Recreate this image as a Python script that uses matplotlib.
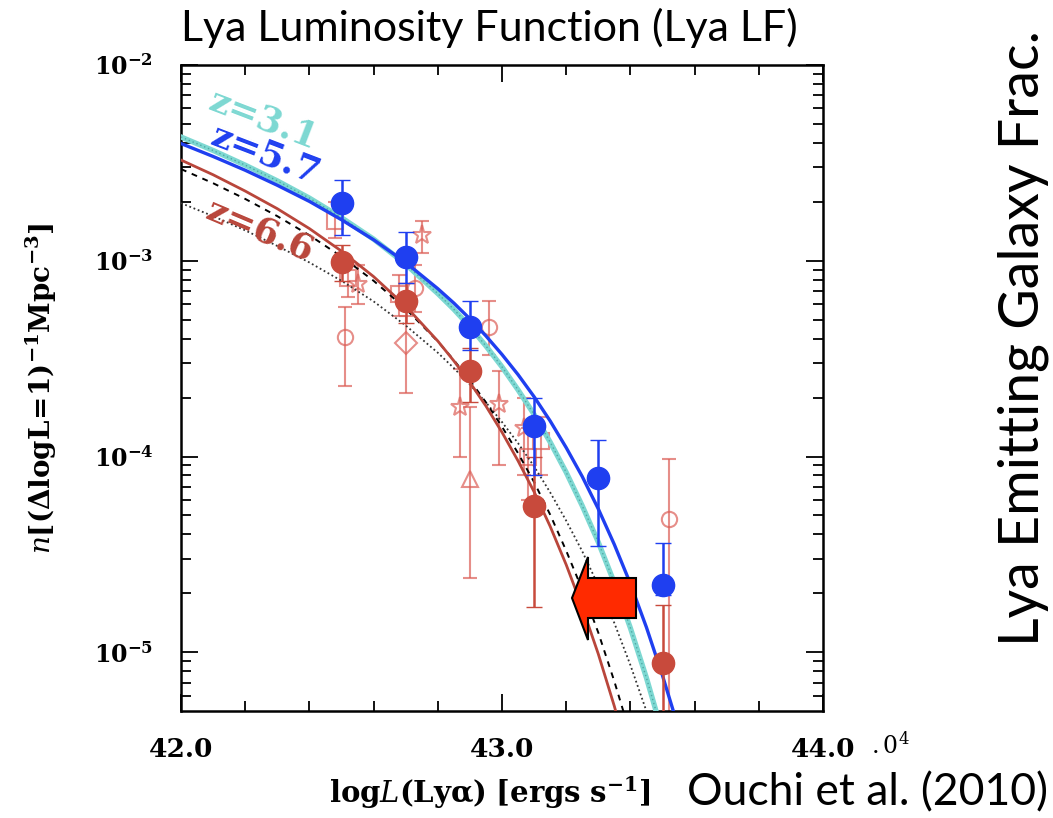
import math
import matplotlib
matplotlib.use("Agg")
import matplotlib.pyplot as plt
from matplotlib.ticker import LogLocator, MultipleLocator, FixedLocator, FuncFormatter, NullFormatter
from matplotlib.patches import Polygon

plt.rcParams['mathtext.fontset'] = 'dejavuserif'

# Schechter fit curves
curve_logL = [42.0, 42.1, 42.2, 42.3, 42.4, 42.5, 42.6, 42.7, 42.8, 42.85, 42.9, 42.95, 43.0,
              43.05, 43.1, 43.15, 43.2, 43.25, 43.3, 43.35, 43.4, 43.45, 43.5, 43.55, 43.6]
curve_z57 = [3.97e-3, 3.41e-3, 2.90e-3, 2.43e-3, 2.01e-3, 1.62e-3, 1.28e-3, 9.8e-4, 7.2e-4,
             6.08e-4, 5.05e-4, 4.13e-4, 3.32e-4, 2.62e-4, 2.02e-4, 1.52e-4, 1.11e-4, 7.9e-5,
             5.4e-5, 3.55e-5, 2.24e-5, 1.34e-5, 7.6e-6, 4.1e-6, 2.0e-6]
curve_z31 = [4.29e-3, 3.66e-3, 3.08e-3, 2.56e-3, 2.09e-3, 1.66e-3, 1.29e-3, 9.6e-4, 6.8e-4,
             5.65e-4, 4.6e-4, 3.67e-4, 2.87e-4, 2.19e-4, 1.64e-4, 1.185e-4, 8.3e-5, 5.6e-5,
             3.65e-5, 2.26e-5, 1.33e-5, 7.4e-6, 3.85e-6, 1.9e-6, None]
curve_z66 = [3.27e-3, 2.75e-3, 2.27e-3, 1.845e-3, 1.46e-3, 1.12e-3, 8.3e-4, 5.86e-4, 3.89e-4,
             3.08e-4, 2.39e-4, 1.81e-4, 1.33e-4, 9.5e-5, 6.6e-5, 4.4e-5, 2.8e-5, 1.7e-5,
             9.8e-6, 5.3e-6, 2.7e-6, 1.3e-6, None, None, None]
curve_dash = [2.94e-3, 2.49e-3, 2.07e-3, 1.69e-3, 1.35e-3, 1.05e-3, 7.9e-4, 5.69e-4, 3.87e-4,
              3.11e-4, 2.45e-4, 1.89e-4, 1.42e-4, 1.04e-4, 7.4e-5, 5.05e-5, 3.3e-5, 2.09e-5,
              1.26e-5, 7.1e-6, 3.8e-6, 1.9e-6, None, None, None]
curve_dot = [1.97e-3, 1.69e-3, 1.43e-3, 1.19e-3, 9.8e-4, 7.9e-4, 6.2e-4, 4.67e-4, 3.39e-4,
             2.83e-4, 2.33e-4, 1.89e-4, 1.50e-4, 1.17e-4, 8.9e-5, 6.56e-5, 4.7e-5, 3.28e-5,
             2.19e-5, 1.41e-5, 8.6e-6, 5.0e-6, 2.7e-6, 1.4e-6, None]

# z=5.7 (blue filled circles)
logL_z57 = [42.5, 42.7, 42.9, 43.1, 43.3, 43.5]
n_z57 = [1.97e-3, 1.05e-3, 4.6e-4, 1.44e-4, 7.8e-5, 2.2e-5]
n_z57_lo = [1.35e-3, 7.7e-4, 3.5e-4, 8.0e-5, 3.5e-5, 1.95e-5]
n_z57_hi = [2.58e-3, 1.40e-3, 6.2e-4, 2.0e-4, 1.21e-4, 3.6e-5]

# z=6.6 (red filled circles)
logL_z66 = [42.5, 42.7, 42.9, 43.1, 43.5]
n_z66 = [9.8e-4, 6.2e-4, 2.75e-4, 5.6e-5, 8.8e-6]
n_z66_lo = [7.9e-4, 4.8e-4, 1.9e-4, 1.7e-5, 1e-7]
n_z66_hi = [1.2e-3, 7.7e-4, 3.6e-4, 1.0e-4, 1.75e-5]

# other z=6.6 measurements (faint open symbols)
other_marker = ['o', 'o', 'o', 'o', '^', 'D', '*', '*', '*', '*', '*', 's', 's', 's', 's', 's']
other_logL = [42.51, 42.73, 42.96, 43.52, 42.90, 42.70, 42.75, 42.55, 42.87, 42.99, 43.07,
              42.48, 42.52, 42.68, 43.08, 43.12]
other_n = [4.1e-4, 7.3e-4, 4.6e-4, 4.8e-5, 7.7e-5, 3.8e-4, 1.35e-3, 7.6e-4, 1.8e-4, 1.85e-4,
           1.4e-4, 1.6e-3, 8.2e-4, 6.8e-4, 1.0e-4, 1.2e-4]
other_lo = [2.3e-4, 5.5e-4, 3.3e-4, 1e-7, 2.4e-5, 2.1e-4, 1.1e-3, 6.0e-4, 9.9e-5, 9.0e-5,
            8.0e-5, 1.3e-3, 6.5e-4, 5.2e-4, 6.0e-5, 8.0e-5]
other_hi = [5.8e-4, 9.5e-4, 6.2e-4, 9.7e-5, 1.8e-4, 5.2e-4, 1.6e-3, 9.5e-4, 2.8e-4, 2.75e-4,
            2.0e-4, 2.0e-3, 1.0e-3, 8.5e-4, 1.4e-4, 1.6e-4]

blue = '#1f3ff0'
cyan = '#7dd8d2'
red_line = '#b9463b'
red_pt = '#c84a3c'
red_open = '#dc5f57'


def pts(xs, ys):
    xx, yy = [], []
    for x, y in zip(xs, ys):
        if y is not None:
            xx.append(x)
            yy.append(y)
    return xx, yy


W, H = 1053, 818
fig = plt.figure(figsize=(W / 100, H / 100), dpi=100)
ax = fig.add_axes([181 / W, 1 - 711 / H, 642 / W, 646 / H])

# faint literature points
for m, x, y, lo, hi in zip(other_marker, other_logL, other_n, other_lo, other_hi):
    ax.errorbar([x], [y], yerr=[[y - lo], [hi - y]], fmt=m, ms=11 if m != '*' else 14,
                mfc='none', mec=red_open, ecolor=red_open, elinewidth=1.5, capsize=5,
                mew=1.5, alpha=0.7, zorder=2)

# model curves
ax.plot(*pts(curve_logL, curve_dot), color='#333333', lw=1.3, ls=(0, (1, 1.5)), zorder=3)
ax.plot(*pts(curve_logL, curve_dash), color='k', lw=1.4, ls=(0, (3, 3)), zorder=3)
ax.plot(*pts(curve_logL, curve_z66), color=red_line, lw=2.0, zorder=4)
ax.plot(*pts(curve_logL, curve_z31), color=cyan, lw=3.8, zorder=4)
ax.plot(*pts(curve_logL, curve_z31), color='#4fa8a3', lw=1.0, ls=(0, (1, 2)), zorder=4)
ax.plot(*pts(curve_logL, curve_z57), color=blue, lw=2.4, zorder=5)

# binned points
ax.errorbar(logL_z66, n_z66,
            yerr=[[a - b for a, b in zip(n_z66, n_z66_lo)], [b - a for a, b in zip(n_z66, n_z66_hi)]],
            fmt='o', ms=16, color=red_pt, ecolor=red_pt, elinewidth=1.8, capsize=6, zorder=6)
ax.errorbar(logL_z57, n_z57,
            yerr=[[a - b for a, b in zip(n_z57, n_z57_lo)], [b - a for a, b in zip(n_z57, n_z57_hi)]],
            fmt='o', ms=16, color=blue, ecolor=blue, elinewidth=1.8, capsize=6, zorder=7)

ax.set_yscale('log')
ax.set_xlim(42.0, 44.0)
ax.set_ylim(10 ** -5.3, 1e-2)

ax.xaxis.set_major_locator(FixedLocator([42.0, 43.0, 44.0]))
ax.xaxis.set_minor_locator(MultipleLocator(0.2))
ax.xaxis.set_major_formatter(FuncFormatter(lambda v, p: '%.1f' % v))
ax.yaxis.set_major_locator(LogLocator(base=10, numticks=10))
ax.yaxis.set_minor_locator(LogLocator(base=10, subs=range(2, 10), numticks=20))
ax.yaxis.set_minor_formatter(NullFormatter())
ax.yaxis.set_major_formatter(FuncFormatter(lambda v, p: r'$\mathbf{10^{%d}}$' % round(math.log10(v))))

ax.tick_params(which='both', direction='in', top=True, right=True, width=1.3)
ax.tick_params(which='major', length=12)
ax.tick_params(which='minor', length=7)
ax.tick_params(axis='x', which='major', pad=19, labelsize=19)
ax.tick_params(axis='y', which='major', pad=20, labelsize=17)
for lab in ax.get_xticklabels():
    lab.set_family('DejaVu Serif')
    lab.set_fontweight('bold')
for s in ax.spines.values():
    s.set_linewidth(1.8)

ax.set_xlabel(r'$\mathbf{log}\mathit{L}\mathbf{(Ly\alpha)\ [ergs\ s^{-1}]}$', fontsize=21)
ax.xaxis.set_label_coords(0.481, -0.098)
ax.set_ylabel(r'$\mathit{n}\mathbf{[(\Delta logL\!=\!1)^{-1}Mpc^{-3}]}$', fontsize=20, labelpad=25)

# curve labels
ax.text(0.129, 0.915, 'z=3.1', transform=ax.transAxes, color=cyan, fontsize=26,
        family='DejaVu Serif', fontweight='bold', rotation=-21, ha='center', va='center', zorder=8)
ax.text(0.132, 0.862, 'z=5.7', transform=ax.transAxes, color=blue, fontsize=26,
        family='DejaVu Serif', fontweight='bold', rotation=-21, ha='center', va='center', zorder=8)
ax.text(0.123, 0.743, 'z=6.6', transform=ax.transAxes, color=red_line, fontsize=26,
        family='DejaVu Serif', fontweight='bold', rotation=-23, ha='center', va='center', zorder=8)

# red arrow
arrow = [(572, 598), (588, 557), (588, 578), (636, 578), (636, 618), (588, 618), (588, 640)]
fig.patches.append(Polygon([(x / W, 1 - y / H) for x, y in arrow], closed=True,
                           transform=fig.transFigure, facecolor='#ff2a00', edgecolor='k', lw=1.5))

fig.text(489 / W, 1 - 28 / H, 'Lya Luminosity Function (Lya LF)', family='Lato',
         fontsize=31, ha='center', va='center')
fig.text(1023 / W, 1 - 338 / H, 'Lya Emitting Galaxy Frac.', family='Lato',
         fontsize=40, rotation=90, ha='center', va='center')
fig.text(868 / W, 1 - 793 / H, 'Ouchi et al. (2010)', family='Lato',
         fontsize=32, ha='center', va='center')
fig.text(890 / W, 1 - 745 / H, r'$.0^4$', fontsize=17, ha='center', va='center')

fig.savefig('out.png', dpi=100)
